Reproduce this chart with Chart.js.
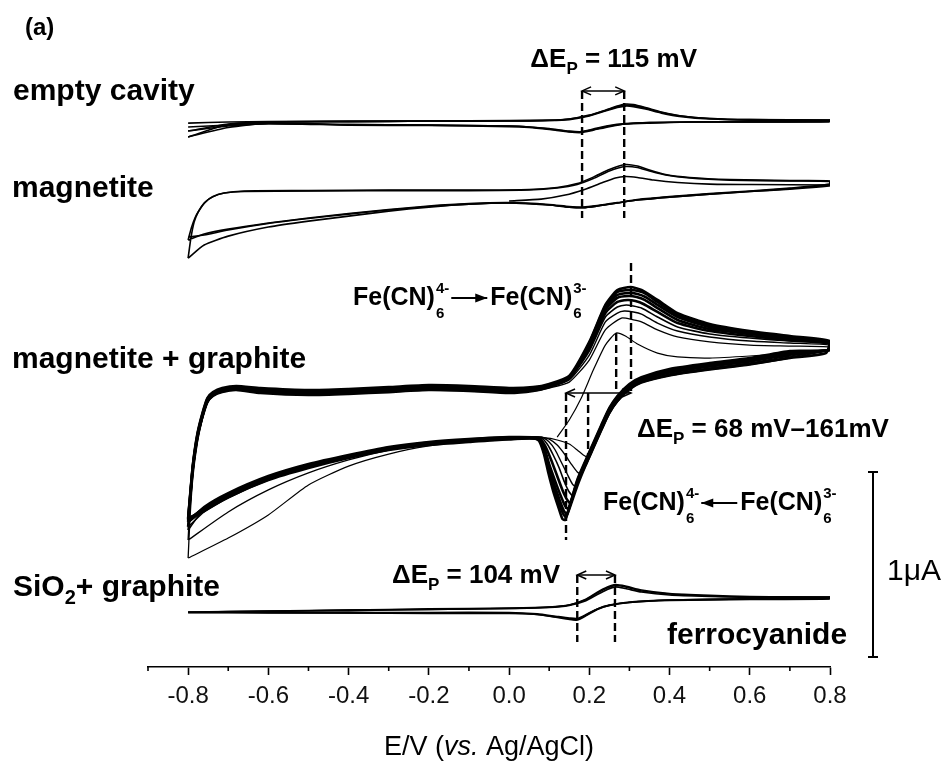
<!DOCTYPE html>
<html>
<head>
<meta charset="utf-8">
<script src="https://cdn.jsdelivr.net/npm/chart.js@4.4.0/dist/chart.umd.min.js"></script>
<style>
  html, body { margin: 0; padding: 0; background: #fff; }
</style>
</head>
<body>
<canvas id="cv" width="943" height="761"></canvas>
<script>
const FONT = "'Liberation Sans', Arial, Helvetica, sans-serif";

// potential axis, V vs Ag/AgCl
const potentialLabels = [-0.8, -0.6, -0.4, -0.2, 0.0, 0.2, 0.4, 0.6, 0.8];
const minorTicks = [-0.9, -0.7, -0.5, -0.3, -0.1, 0.1, 0.3, 0.5, 0.7];

// vertical stacking of the four voltammograms (uA)
const emptyOffset = 2.951;
const magnetiteOffset = 2.578;
const graphiteOffset = 1.481;
const silicaOffset = 0.319;

// peak potentials marked with dashed guides (V)
const cavityPeaks = [0.182, 0.287];
const graphitePeaks = [0.142, 0.197, 0.267, 0.304];
const silicaPeaks = [0.170, 0.264];

// line weight per graphite cycle: later cycles pile up into a dark band
const graphiteWidths = [1.2, 1.3, 1.4, 1.6, 2.6, 2.6, 2.6, 2.6, 2.6];

// each cycle: [E (V), I (uA)], forward sweep then reverse sweep
const emptyCycles = [
  [[-0.8,-0.011],[-0.7,-0.005],[-0.6,-0.003],[-0.4,0],[-0.2,0],[0.0,0],[0.1,0.003],[0.15,0.011],[0.2,0.032],[0.24,0.059],[0.27,0.081],[0.29,0.092],[0.31,0.089],[0.34,0.073],[0.38,0.049],[0.43,0.027],[0.5,0.014],[0.6,0.008],[0.8,0.005],
   [0.798,0],[0.6,-0.003],[0.45,-0.005],[0.35,-0.008],[0.29,-0.016],[0.25,-0.030],[0.21,-0.049],[0.18,-0.062],[0.15,-0.059],[0.1,-0.046],[0.05,-0.035],[0.0,-0.030],[-0.2,-0.024],[-0.4,-0.022],[-0.6,-0.014],[-0.7,-0.027],[-0.8,-0.054]],
  [[-0.8,-0.054],[-0.7,-0.016],[-0.6,-0.005],[-0.4,-0.003],[-0.2,0],[0.0,0],[0.1,0.003],[0.15,0.008],[0.2,0.027],[0.24,0.054],[0.27,0.073],[0.29,0.081],[0.31,0.078],[0.34,0.065],[0.38,0.043],[0.43,0.024],[0.5,0.011],[0.6,0.005],[0.8,0.003],
   [0.798,-0.003],[0.6,-0.005],[0.45,-0.005],[0.35,-0.008],[0.29,-0.014],[0.25,-0.024],[0.21,-0.043],[0.18,-0.057],[0.15,-0.054],[0.1,-0.041],[0.05,-0.032],[0.0,-0.027],[-0.2,-0.022],[-0.4,-0.019],[-0.6,-0.011],[-0.7,-0.035],[-0.8,-0.086]],
  [[-0.8,-0.086],[-0.7,-0.019],[-0.6,-0.005],[-0.4,-0.003],[-0.2,0],[0.0,0.003],[0.1,0.005],[0.15,0.011],[0.2,0.030],[0.24,0.057],[0.27,0.078],[0.29,0.086],[0.31,0.084],[0.34,0.070],[0.38,0.046],[0.43,0.027],[0.5,0.014],[0.6,0.008],[0.8,0.005],
   [0.798,-0.003],[0.6,-0.005],[0.45,-0.005],[0.35,-0.011],[0.29,-0.016],[0.25,-0.027],[0.21,-0.046],[0.18,-0.059],[0.15,-0.057],[0.1,-0.043],[0.05,-0.032],[0.0,-0.027],[-0.2,-0.022],[-0.4,-0.019],[-0.6,-0.014],[-0.7,-0.022],[-0.8,-0.032]]
];

const magnetiteCycles = [
  [[0.0,-0.059],[0.08,-0.049],[0.14,-0.027],[0.19,0.005],[0.23,0.038],[0.265,0.065],[0.29,0.073],[0.32,0.068],[0.36,0.054],[0.42,0.041],[0.5,0.032],[0.6,0.030],[0.8,0.027],
   [0.798,0.022],[0.7,0.005],[0.6,-0.008],[0.5,-0.022],[0.4,-0.038],[0.32,-0.054],[0.27,-0.070],[0.22,-0.086],[0.185,-0.095],[0.15,-0.092],[0.1,-0.081],[0.0,-0.070],[-0.1,-0.076],[-0.2,-0.092],[-0.3,-0.114],[-0.4,-0.141],[-0.5,-0.168],[-0.6,-0.200],[-0.7,-0.249],[-0.76,-0.297],[-0.8,-0.368]],
  [[-0.8,-0.368],[-0.793,-0.259],[-0.785,-0.173],[-0.775,-0.119],[-0.76,-0.070],[-0.74,-0.038],[-0.71,-0.016],[-0.66,-0.005],[-0.5,-0.003],[-0.3,0],[-0.1,0],[0.05,0.003],[0.12,0.014],[0.17,0.035],[0.21,0.070],[0.25,0.111],[0.29,0.138],[0.32,0.130],[0.35,0.108],[0.39,0.084],[0.45,0.068],[0.55,0.057],[0.7,0.051],[0.8,0.049],
   [0.798,0.032],[0.7,0.011],[0.6,-0.005],[0.5,-0.019],[0.4,-0.035],[0.32,-0.051],[0.27,-0.068],[0.22,-0.084],[0.185,-0.092],[0.15,-0.089],[0.1,-0.078],[0.0,-0.068],[-0.1,-0.073],[-0.2,-0.086],[-0.3,-0.105],[-0.4,-0.127],[-0.5,-0.151],[-0.6,-0.178],[-0.7,-0.211],[-0.76,-0.238],[-0.8,-0.270]],
  [[-0.8,-0.270],[-0.792,-0.205],[-0.783,-0.151],[-0.772,-0.108],[-0.757,-0.065],[-0.738,-0.035],[-0.71,-0.016],[-0.66,-0.008],[-0.5,-0.005],[-0.3,-0.003],[-0.1,-0.003],[0.05,0],[0.12,0.011],[0.17,0.030],[0.21,0.062],[0.25,0.103],[0.29,0.127],[0.32,0.122],[0.35,0.103],[0.39,0.081],[0.45,0.065],[0.55,0.054],[0.7,0.049],[0.8,0.046],
   [0.798,0.027],[0.7,0.008],[0.6,-0.008],[0.5,-0.022],[0.4,-0.038],[0.32,-0.054],[0.27,-0.070],[0.22,-0.086],[0.185,-0.095],[0.15,-0.092],[0.1,-0.081],[0.0,-0.070],[-0.1,-0.076],[-0.2,-0.089],[-0.3,-0.108],[-0.4,-0.130],[-0.5,-0.154],[-0.6,-0.181],[-0.7,-0.216],[-0.76,-0.243],[-0.8,-0.254]]
];

const graphiteCycles = [
  [[0.12,-0.238],[0.15,-0.146],[0.18,-0.027],[0.21,0.124],[0.24,0.259],[0.267,0.324],[0.29,0.308],[0.32,0.265],[0.37,0.216],[0.42,0.195],[0.5,0.189],[0.6,0.200],[0.7,0.216],[0.8,0.232],
   [0.7,0.195],[0.6,0.157],[0.5,0.130],[0.4,0.097],[0.33,0.059],[0.3,0.022],[0.27,-0.043],[0.25,-0.108],[0.23,-0.200],[0.21,-0.297],[0.197,-0.346],[0.185,-0.335],[0.17,-0.308],[0.15,-0.276],[0.12,-0.254],[0.09,-0.243],[0.0,-0.243],[-0.1,-0.259],[-0.2,-0.286],[-0.3,-0.330],[-0.4,-0.395],[-0.5,-0.497],[-0.6,-0.659],[-0.7,-0.784],[-0.8,-0.892]],
  [[-0.8,-0.892],[-0.795,-0.665],[-0.788,-0.454],[-0.777,-0.270],[-0.765,-0.146],[-0.752,-0.054],[-0.738,-0.016],[-0.715,0.005],[-0.68,0.016],[-0.62,0.005],[-0.5,-0.005],[-0.4,0],[-0.3,0.011],[-0.2,0.016],[-0.1,0.011],[0.0,0.005],[0.06,0.011],[0.1,0.027],[0.15,0.059],[0.2,0.178],[0.24,0.341],[0.28,0.405],[0.31,0.395],[0.33,0.384],[0.37,0.341],[0.42,0.303],[0.5,0.276],[0.6,0.259],[0.7,0.254],[0.8,0.249],
   [0.798,0.232],[0.7,0.189],[0.6,0.151],[0.5,0.124],[0.4,0.092],[0.33,0.054],[0.3,0.016],[0.27,-0.049],[0.25,-0.114],[0.23,-0.205],[0.21,-0.303],[0.19,-0.400],[0.18,-0.438],[0.17,-0.427],[0.155,-0.384],[0.14,-0.335],[0.12,-0.281],[0.1,-0.249],[0.08,-0.238],[0.0,-0.238],[-0.1,-0.249],[-0.2,-0.270],[-0.3,-0.308],[-0.4,-0.362],[-0.5,-0.432],[-0.6,-0.524],[-0.7,-0.643],[-0.8,-0.795]],
  [[-0.8,-0.795],[-0.795,-0.600],[-0.788,-0.427],[-0.777,-0.254],[-0.765,-0.141],[-0.752,-0.054],[-0.738,-0.011],[-0.715,0.011],[-0.68,0.022],[-0.62,0.011],[-0.5,0],[-0.4,0.005],[-0.3,0.016],[-0.2,0.022],[-0.1,0.016],[0.0,0.011],[0.06,0.016],[0.1,0.032],[0.15,0.070],[0.2,0.205],[0.24,0.384],[0.27,0.432],[0.287,0.443],[0.31,0.438],[0.33,0.427],[0.37,0.378],[0.42,0.335],[0.5,0.303],[0.6,0.281],[0.7,0.270],[0.8,0.259],
   [0.798,0.232],[0.7,0.200],[0.6,0.162],[0.5,0.135],[0.4,0.103],[0.33,0.059],[0.3,0.022],[0.27,-0.043],[0.25,-0.108],[0.23,-0.200],[0.21,-0.297],[0.19,-0.395],[0.175,-0.470],[0.168,-0.508],[0.158,-0.492],[0.145,-0.438],[0.13,-0.373],[0.115,-0.308],[0.1,-0.265],[0.08,-0.238],[0.0,-0.238],[-0.1,-0.249],[-0.2,-0.265],[-0.3,-0.297],[-0.4,-0.341],[-0.5,-0.395],[-0.6,-0.459],[-0.7,-0.551],[-0.76,-0.627],[-0.8,-0.741]],
  [[-0.8,-0.741],[-0.795,-0.589],[-0.788,-0.416],[-0.777,-0.249],[-0.765,-0.135],[-0.752,-0.049],[-0.738,-0.011],[-0.715,0.011],[-0.68,0.016],[-0.62,0.005],[-0.5,-0.005],[-0.4,0],[-0.3,0.011],[-0.2,0.022],[-0.1,0.016],[0.0,0.005],[0.06,0.016],[0.1,0.032],[0.15,0.076],[0.2,0.227],[0.24,0.411],[0.27,0.465],[0.292,0.476],[0.31,0.470],[0.33,0.459],[0.37,0.411],[0.42,0.357],[0.5,0.319],[0.6,0.297],[0.7,0.281],[0.8,0.265],
   [0.798,0.232],[0.7,0.205],[0.6,0.168],[0.5,0.141],[0.4,0.108],[0.33,0.065],[0.3,0.027],[0.27,-0.038],[0.25,-0.103],[0.23,-0.195],[0.21,-0.292],[0.19,-0.389],[0.172,-0.481],[0.16,-0.557],[0.15,-0.535],[0.138,-0.481],[0.125,-0.405],[0.11,-0.335],[0.095,-0.276],[0.08,-0.243],[0.0,-0.243],[-0.1,-0.254],[-0.2,-0.270],[-0.3,-0.303],[-0.4,-0.346],[-0.5,-0.400],[-0.6,-0.470],[-0.7,-0.568],[-0.76,-0.643],[-0.8,-0.724]],
  [[-0.8,-0.724],[-0.795,-0.578],[-0.788,-0.405],[-0.777,-0.243],[-0.765,-0.135],[-0.752,-0.049],[-0.738,-0.016],[-0.715,0.005],[-0.68,0.016],[-0.62,0],[-0.5,-0.011],[-0.4,-0.005],[-0.3,0.005],[-0.2,0.016],[-0.1,0.011],[0.0,0],[0.06,0.011],[0.1,0.032],[0.15,0.081],[0.2,0.243],[0.24,0.432],[0.27,0.492],[0.296,0.503],[0.315,0.497],[0.335,0.481],[0.37,0.438],[0.42,0.378],[0.5,0.335],[0.6,0.308],[0.7,0.286],[0.8,0.270],
   [0.798,0.232],[0.7,0.211],[0.6,0.173],[0.5,0.146],[0.4,0.114],[0.33,0.070],[0.3,0.032],[0.27,-0.032],[0.25,-0.097],[0.23,-0.189],[0.21,-0.286],[0.19,-0.384],[0.17,-0.486],[0.153,-0.595],[0.145,-0.578],[0.133,-0.524],[0.12,-0.449],[0.105,-0.362],[0.09,-0.286],[0.075,-0.243],[0.0,-0.238],[-0.1,-0.249],[-0.2,-0.265],[-0.3,-0.292],[-0.4,-0.335],[-0.5,-0.384],[-0.6,-0.449],[-0.7,-0.541],[-0.76,-0.616],[-0.8,-0.697]],
  [[-0.8,-0.697],[-0.795,-0.568],[-0.788,-0.400],[-0.777,-0.238],[-0.765,-0.130],[-0.752,-0.043],[-0.738,-0.011],[-0.715,0.011],[-0.68,0.022],[-0.62,0.011],[-0.5,0],[-0.4,0.005],[-0.3,0.016],[-0.2,0.027],[-0.1,0.022],[0.0,0.011],[0.06,0.016],[0.1,0.038],[0.15,0.081],[0.2,0.254],[0.24,0.449],[0.27,0.514],[0.298,0.524],[0.318,0.519],[0.338,0.503],[0.37,0.459],[0.42,0.395],[0.5,0.346],[0.6,0.319],[0.7,0.292],[0.8,0.273],
   [0.798,0.232],[0.7,0.216],[0.6,0.178],[0.5,0.151],[0.4,0.119],[0.33,0.076],[0.3,0.038],[0.27,-0.027],[0.25,-0.092],[0.23,-0.184],[0.21,-0.281],[0.19,-0.378],[0.17,-0.481],[0.148,-0.627],[0.14,-0.611],[0.128,-0.551],[0.115,-0.476],[0.1,-0.384],[0.088,-0.297],[0.075,-0.243],[0.0,-0.243],[-0.1,-0.254],[-0.2,-0.270],[-0.3,-0.297],[-0.4,-0.341],[-0.5,-0.389],[-0.6,-0.454],[-0.7,-0.546],[-0.76,-0.622],[-0.8,-0.686]],
  [[-0.8,-0.686],[-0.795,-0.562],[-0.788,-0.395],[-0.777,-0.232],[-0.765,-0.124],[-0.752,-0.038],[-0.738,-0.005],[-0.715,0.016],[-0.68,0.027],[-0.62,0.016],[-0.5,0.005],[-0.4,0.011],[-0.3,0.022],[-0.2,0.032],[-0.1,0.027],[0.0,0.016],[0.06,0.022],[0.1,0.043],[0.15,0.086],[0.2,0.265],[0.24,0.459],[0.27,0.530],[0.3,0.541],[0.32,0.535],[0.34,0.519],[0.37,0.476],[0.42,0.411],[0.5,0.357],[0.6,0.324],[0.7,0.297],[0.8,0.276],
   [0.798,0.232],[0.7,0.222],[0.6,0.184],[0.5,0.157],[0.4,0.124],[0.33,0.081],[0.3,0.043],[0.27,-0.022],[0.25,-0.086],[0.23,-0.178],[0.21,-0.276],[0.19,-0.373],[0.17,-0.476],[0.145,-0.654],[0.137,-0.638],[0.126,-0.578],[0.113,-0.497],[0.1,-0.405],[0.088,-0.308],[0.074,-0.249],[0.0,-0.249],[-0.1,-0.259],[-0.2,-0.276],[-0.3,-0.303],[-0.4,-0.346],[-0.5,-0.395],[-0.6,-0.459],[-0.7,-0.551],[-0.76,-0.627],[-0.8,-0.681]],
  [[-0.8,-0.681],[-0.795,-0.557],[-0.788,-0.389],[-0.777,-0.227],[-0.765,-0.119],[-0.752,-0.032],[-0.738,0],[-0.715,0.022],[-0.68,0.032],[-0.62,0.022],[-0.5,0.011],[-0.4,0.016],[-0.3,0.027],[-0.2,0.038],[-0.1,0.032],[0.0,0.022],[0.06,0.027],[0.1,0.043],[0.15,0.086],[0.2,0.270],[0.24,0.470],[0.27,0.546],[0.302,0.557],[0.322,0.551],[0.342,0.535],[0.37,0.492],[0.42,0.422],[0.5,0.365],[0.6,0.330],[0.7,0.303],[0.8,0.278],
   [0.798,0.232],[0.7,0.227],[0.6,0.189],[0.5,0.162],[0.4,0.130],[0.33,0.086],[0.3,0.049],[0.27,-0.016],[0.25,-0.081],[0.23,-0.173],[0.21,-0.270],[0.19,-0.368],[0.17,-0.470],[0.142,-0.670],[0.135,-0.654],[0.124,-0.595],[0.112,-0.519],[0.1,-0.422],[0.087,-0.319],[0.073,-0.249],[0.0,-0.249],[-0.1,-0.265],[-0.2,-0.281],[-0.3,-0.308],[-0.4,-0.351],[-0.5,-0.405],[-0.6,-0.470],[-0.7,-0.562],[-0.76,-0.638],[-0.8,-0.676]],
  [[-0.8,-0.676],[-0.795,-0.551],[-0.788,-0.384],[-0.777,-0.222],[-0.765,-0.114],[-0.752,-0.027],[-0.738,0.005],[-0.715,0.027],[-0.68,0.038],[-0.62,0.027],[-0.5,0.016],[-0.4,0.022],[-0.3,0.032],[-0.2,0.043],[-0.1,0.038],[0.0,0.027],[0.06,0.032],[0.1,0.049],[0.15,0.092],[0.2,0.276],[0.24,0.476],[0.27,0.557],[0.303,0.573],[0.33,0.557],[0.37,0.503],[0.42,0.432],[0.5,0.373],[0.6,0.335],[0.7,0.308],[0.8,0.281],
   [0.79,0.216],[0.7,0.189],[0.6,0.157],[0.5,0.130],[0.4,0.097],[0.33,0.059],[0.3,0.022],[0.27,-0.043],[0.25,-0.108],[0.23,-0.200],[0.21,-0.297],[0.19,-0.395],[0.17,-0.503],[0.14,-0.686],[0.133,-0.681],[0.122,-0.611],[0.11,-0.530],[0.098,-0.432],[0.087,-0.330],[0.075,-0.259],[0.06,-0.243],[0.0,-0.243],[-0.1,-0.254],[-0.2,-0.276],[-0.3,-0.303],[-0.4,-0.346],[-0.5,-0.400],[-0.6,-0.465],[-0.7,-0.557],[-0.76,-0.632],[-0.8,-0.697]]
];

const silicaCycles = [
  [[-0.8,-0.022],[-0.6,-0.016],[-0.4,-0.011],[-0.2,-0.008],[0.0,-0.003],[0.1,0.005],[0.15,0.016],[0.19,0.043],[0.22,0.081],[0.245,0.108],[0.265,0.122],[0.29,0.114],[0.33,0.092],[0.4,0.076],[0.5,0.065],[0.6,0.059],[0.8,0.059],
   [0.798,0.051],[0.6,0.049],[0.4,0.043],[0.3,0.032],[0.25,0.016],[0.22,-0.005],[0.195,-0.035],[0.17,-0.062],[0.15,-0.059],[0.12,-0.049],[0.07,-0.035],[0.0,-0.027],[-0.2,-0.027],[-0.4,-0.027],[-0.6,-0.024],[-0.8,-0.024]],
  [[-0.8,-0.024],[-0.6,-0.016],[-0.4,-0.014],[-0.2,-0.008],[0.0,-0.003],[0.1,0.003],[0.15,0.014],[0.19,0.038],[0.22,0.073],[0.245,0.100],[0.265,0.114],[0.29,0.105],[0.33,0.086],[0.4,0.070],[0.5,0.062],[0.6,0.057],[0.8,0.057],
   [0.798,0.049],[0.6,0.046],[0.4,0.041],[0.3,0.030],[0.25,0.014],[0.22,-0.005],[0.195,-0.032],[0.17,-0.057],[0.15,-0.054],[0.12,-0.046],[0.07,-0.032],[0.0,-0.024],[-0.2,-0.024],[-0.4,-0.024],[-0.6,-0.024],[-0.8,-0.024]],
  [[-0.8,-0.024],[-0.6,-0.019],[-0.4,-0.011],[-0.2,-0.005],[0.0,0],[0.1,0.005],[0.15,0.016],[0.19,0.046],[0.22,0.086],[0.245,0.114],[0.265,0.127],[0.29,0.119],[0.33,0.097],[0.4,0.078],[0.5,0.068],[0.6,0.062],[0.8,0.059],
   [0.798,0.051],[0.6,0.049],[0.4,0.043],[0.3,0.030],[0.25,0.014],[0.22,-0.008],[0.195,-0.038],[0.17,-0.065],[0.15,-0.062],[0.12,-0.051],[0.07,-0.035],[0.0,-0.030],[-0.2,-0.030],[-0.4,-0.027],[-0.6,-0.027],[-0.8,-0.022]]
];

function isLabelled(v) {
  return potentialLabels.some(p => Math.abs(p - v) < 1e-6);
}

function cycleSets(cycles, offset, widths) {
  return cycles.map((c, k) => ({
    data: c.map(([e, i]) => ({ x: e, y: i + offset })),
    showLine: true,
    borderColor: '#000',
    borderWidth: Array.isArray(widths) ? widths[k] : widths,
    pointRadius: 0,
    tension: 0.2,
    fill: false
  }));
}

// labels, peak guides, scale bar and axis title
const overlay = {
  id: 'overlay',
  afterDraw(chart) {
    const { ctx, chartArea } = chart;
    const X = v => chart.scales.x.getPixelForValue(v);
    const Y = v => chart.scales.y.getPixelForValue(v);
    const font = (size, weight = 'bold', style = 'normal') => `${style} ${weight} ${size}px ${FONT}`;

    const seg = (x0, y0, x1, y1) => {
      ctx.beginPath(); ctx.moveTo(x0, y0); ctx.lineTo(x1, y1); ctx.stroke();
    };

    const runs = (x, y, parts, align) => {
      let w = 0;
      parts.forEach(p => { ctx.font = font(p.size, p.weight, p.style); w += ctx.measureText(p.text).width; });
      if (align === 'right') x -= w;
      else if (align === 'center') x -= w / 2;
      parts.forEach(p => {
        ctx.font = font(p.size, p.weight, p.style);
        ctx.fillText(p.text, x, y + (p.dy || 0));
        x += ctx.measureText(p.text).width;
      });
    };

    const guide = (e, v0, v1) => {
      ctx.save();
      ctx.setLineDash([8, 4]);
      ctx.lineWidth = 2.4;
      seg(X(e), Y(v0), X(e), Y(v1));
      ctx.restore();
    };

    const span = (e0, e1, v) => {
      const a = X(e0), b = X(e1), y = Y(v);
      ctx.lineWidth = 1.5;
      seg(a, y, b, y);
      [[a, 1], [b, -1]].forEach(([px, d]) => {
        ctx.beginPath();
        ctx.moveTo(px + d * 9, y - 4);
        ctx.lineTo(px, y);
        ctx.lineTo(px + d * 9, y + 4);
        ctx.stroke();
      });
    };

    const ion = (x, y, charge) => {
      ctx.font = font(25);
      ctx.fillText('Fe(CN)', x, y);
      x += ctx.measureText('Fe(CN)').width + 1;
      ctx.font = font(15);
      ctx.fillText(charge, x, y - 12);
      ctx.fillText('6', x, y + 13);
      return x + Math.max(ctx.measureText(charge).width, ctx.measureText('6').width);
    };

    const reaction = (x, y, pointLeft) => {
      const end = ion(x, y, '4-');
      const a0 = end + 2, a1 = end + 38, ay = y - 7;
      ctx.lineWidth = 2.2;
      seg(a0, ay, a1, ay);
      const tip = pointLeft ? a0 : a1, d = pointLeft ? 1 : -1;
      ctx.beginPath();
      ctx.moveTo(tip, ay);
      ctx.lineTo(tip + d * 12, ay - 4.5);
      ctx.lineTo(tip + d * 12, ay + 4.5);
      ctx.closePath();
      ctx.fill();
      ion(a1 + 3, y, '3-');
    };

    const dep = value => [
      { text: '\u0394E', size: 26 },
      { text: 'P', size: 17, dy: 7 },
      { text: ' = ' + value, size: 26 }
    ];

    ctx.save();
    ctx.fillStyle = '#000';
    ctx.strokeStyle = '#000';
    ctx.textAlign = 'left';
    ctx.textBaseline = 'alphabetic';

    // short ticks at the odd tenths
    ctx.lineWidth = 1.6;
    minorTicks.forEach(e => seg(X(e), chartArea.bottom, X(e), chartArea.bottom + 4));

    // peak separation guides
    cavityPeaks.forEach(e => guide(e, 3.114, 2.427));
    span(cavityPeaks[0], cavityPeaks[1], 3.114);

    guide(graphitePeaks[3], 2.184, graphiteOffset);
    guide(graphitePeaks[2], 1.805, graphiteOffset);
    guide(graphitePeaks[1], graphiteOffset, 1.135);
    guide(graphitePeaks[0], graphiteOffset, 0.686);
    span(graphitePeaks[0], graphitePeaks[3], graphiteOffset);

    silicaPeaks.forEach(e => guide(e, 0.497, 0.135));
    span(silicaPeaks[0], silicaPeaks[1], 0.497);

    // 1 uA scale bar
    const bx = 873, b0 = Y(0.054), b1 = Y(1.054);
    ctx.lineWidth = 2;
    seg(bx, b0, bx, b1);
    seg(bx - 5, b0, bx + 5, b0);
    seg(bx - 5, b1, bx + 5, b1);
    runs(887, 580, [{ text: '1\u03bcA', size: 30, weight: 'normal' }]);

    // sample labels
    runs(25, 35, [{ text: '(a)', size: 24 }]);
    runs(13, 100, [{ text: 'empty cavity', size: 30 }]);
    runs(12, 197, [{ text: 'magnetite', size: 30 }]);
    runs(12, 368, [{ text: 'magnetite + graphite', size: 30 }]);
    runs(13, 596, [{ text: 'SiO', size: 30 }, { text: '2', size: 20, dy: 8 }, { text: '+ graphite', size: 30 }]);
    runs(667, 644, [{ text: 'ferrocyanide', size: 30 }]);

    runs(697, 67, dep('115 mV'), 'right');
    runs(637, 437, dep('68 mV\u2013161mV'));
    runs(560, 583, dep('104 mV'), 'right');

    reaction(353, 305, false);
    reaction(603, 510, true);

    // axis title
    const cx = (chartArea.left + chartArea.right) / 2;
    runs(cx, 755, [
      { text: 'E/V (', size: 27, weight: 'normal' },
      { text: 'vs.', size: 27, weight: 'normal', style: 'italic' },
      { text: ' Ag/AgCl)', size: 27, weight: 'normal' }
    ], 'center');

    ctx.restore();
  }
};

new Chart(document.getElementById('cv'), {
  type: 'scatter',
  data: {
    datasets: [
      ...cycleSets(emptyCycles, emptyOffset, 1.6),
      ...cycleSets(magnetiteCycles, magnetiteOffset, 1.6),
      ...cycleSets(graphiteCycles, graphiteOffset, graphiteWidths),
      ...cycleSets(silicaCycles, silicaOffset, 1.6)
    ]
  },
  options: {
    responsive: false,
    animation: false,
    devicePixelRatio: 1,
    events: [],
    layout: { padding: { top: 1, left: 148, right: 113, bottom: 0 } },
    plugins: {
      legend: { display: false },
      tooltip: { enabled: false }
    },
    scales: {
      x: {
        type: 'linear',
        min: -0.9,
        max: 0.8,
        afterFit(scale) { scale.height = 94; },
        border: { display: true, color: '#000', width: 1.6 },
        grid: {
          drawOnChartArea: false,
          drawTicks: true,
          tickLength: 8,
          tickWidth: 1.6,
          tickColor: c => (c.tick && isLabelled(c.tick.value)) ? '#000' : 'rgba(0,0,0,0)'
        },
        ticks: {
          stepSize: 0.1,
          autoSkip: false,
          maxRotation: 0,
          padding: 7,
          color: '#111',
          font: { family: FONT, size: 24 },
          callback: v => isLabelled(v) ? v.toFixed(1) : ''
        }
      },
      y: { display: false, min: 0, max: 3.6 }
    }
  },
  plugins: [overlay]
});
</script>
</body>
</html>
